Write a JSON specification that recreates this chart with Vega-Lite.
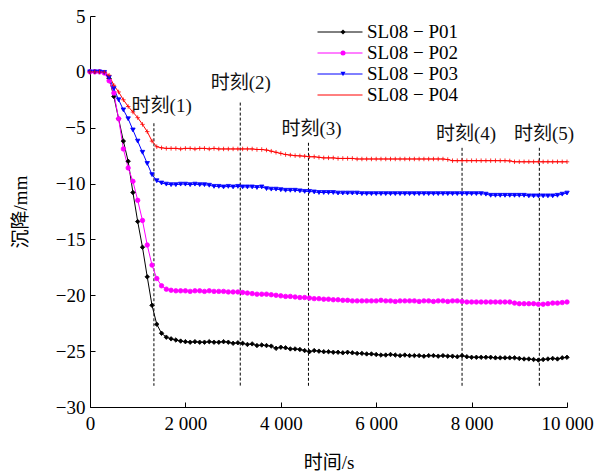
{
"$schema": "https://vega.github.io/schema/vega-lite/v6.json",
"width": 477, "height": 391,
"autosize": "none",
"padding": {"left": 90, "top": 16, "right": 28, "bottom": 68},
"config": {
  "view": {"stroke": null},
  "font": "Liberation Serif, Noto Sans CJK SC",
  "axis": {"grid": false, "domainColor": "black", "tickColor": "black", "labelColor": "black", "titleColor": "black",
    "labelFont": "Liberation Serif, Noto Sans CJK SC", "titleFont": "Liberation Serif, Noto Sans CJK SC",
    "labelFontSize": 19, "titleFontSize": 19, "titleFontWeight": "normal", "tickSize": -5, "domainWidth": 1, "tickWidth": 1},
  "legend": {"labelFont": "Liberation Serif, Noto Sans CJK SC", "labelFontSize": 19}
},
"datasets": {
"moments": [
 {"t": 1340, "top": -4.6, "bot": -28.1, "label": "时刻(1)", "lt": 1503, "ly": -3.04},
 {"t": 3150, "top": -2.75, "bot": -28.1, "label": "时刻(2)", "lt": 3162, "ly": -0.96},
 {"t": 4580, "top": -6.35, "bot": -28.1, "label": "时刻(3)", "lt": 4646, "ly": -5.1},
 {"t": 7800, "top": -6.8, "bot": -28.1, "label": "时刻(4)", "lt": 7883, "ly": -5.55},
 {"t": 9420, "top": -6.8, "bot": -28.1, "label": "时刻(5)", "lt": 9518, "ly": -5.55}
],
"curves": [
{"t":0,"P01":0,"P02":0,"P03":0,"P04":0},
{"t":100,"P01":0,"P02":0,"P03":0,"P04":0},
{"t":200,"P01":0,"P02":0,"P03":0,"P04":0},
{"t":300,"P01":-0.05,"P02":-0.1,"P03":-0.05,"P04":-0.03},
{"t":400,"P01":-0.6,"P02":-0.8,"P03":-0.5,"P04":-0.3},
{"t":500,"P01":-2.2,"P02":-1.9,"P03":-1.5,"P04":-1.2},
{"t":600,"P01":-4.2,"P02":-4.2,"P03":-2.5,"P04":-1.8},
{"t":700,"P01":-6.2,"P02":-6.9,"P03":-3.4,"P04":-2.5},
{"t":800,"P01":-8.0,"P02":-8.6,"P03":-4.2,"P04":-3.1},
{"t":900,"P01":-10.8,"P02":-9.8,"P03":-5.2,"P04":-3.6},
{"t":1000,"P01":-13.4,"P02":-11.5,"P03":-6.2,"P04":-4.1},
{"t":1100,"P01":-15.7,"P02":-13.3,"P03":-7.2,"P04":-4.7},
{"t":1200,"P01":-18.35,"P02":-15.5,"P03":-8.2,"P04":-5.35},
{"t":1300,"P01":-20.9,"P02":-17.3,"P03":-9.2,"P04":-6.2},
{"t":1400,"P01":-22.6,"P02":-18.5,"P03":-9.75,"P04":-6.7},
{"t":1500,"P01":-23.4,"P02":-19.15,"P03":-9.95,"P04":-6.8},
{"t":1600,"P01":-23.75,"P02":-19.45,"P03":-10.05,"P04":-6.85},
{"t":1700,"P01":-23.9,"P02":-19.55,"P03":-10.1,"P04":-6.85},
{"t":1800,"P01":-24.0,"P02":-19.6,"P03":-10.1,"P04":-6.85},
{"t":1900,"P01":-24.1,"P02":-19.6,"P03":-10.05,"P04":-6.9},
{"t":2000,"P01":-24.15,"P02":-19.6,"P03":-10.05,"P04":-6.85},
{"t":2100,"P01":-24.2,"P02":-19.65,"P03":-10.1,"P04":-6.85},
{"t":2200,"P01":-24.15,"P02":-19.6,"P03":-10.05,"P04":-6.9},
{"t":2300,"P01":-24.2,"P02":-19.6,"P03":-10.1,"P04":-6.85},
{"t":2400,"P01":-24.2,"P02":-19.65,"P03":-10.1,"P04":-6.85},
{"t":2500,"P01":-24.15,"P02":-19.6,"P03":-10.15,"P04":-6.9},
{"t":2600,"P01":-24.2,"P02":-19.65,"P03":-10.25,"P04":-6.85},
{"t":2700,"P01":-24.2,"P02":-19.65,"P03":-10.25,"P04":-6.9},
{"t":2800,"P01":-24.15,"P02":-19.65,"P03":-10.3,"P04":-6.9},
{"t":2900,"P01":-24.2,"P02":-19.7,"P03":-10.25,"P04":-6.9},
{"t":3000,"P01":-24.3,"P02":-19.7,"P03":-10.3,"P04":-6.9},
{"t":3100,"P01":-24.25,"P02":-19.7,"P03":-10.25,"P04":-6.9},
{"t":3200,"P01":-24.3,"P02":-19.75,"P03":-10.3,"P04":-6.9},
{"t":3300,"P01":-24.4,"P02":-19.8,"P03":-10.3,"P04":-6.9},
{"t":3400,"P01":-24.35,"P02":-19.85,"P03":-10.3,"P04":-6.9},
{"t":3500,"P01":-24.5,"P02":-19.9,"P03":-10.35,"P04":-6.95},
{"t":3600,"P01":-24.45,"P02":-19.9,"P03":-10.3,"P04":-6.95},
{"t":3700,"P01":-24.5,"P02":-19.9,"P03":-10.45,"P04":-7.0},
{"t":3800,"P01":-24.55,"P02":-19.95,"P03":-10.5,"P04":-7.1},
{"t":3900,"P01":-24.75,"P02":-20.0,"P03":-10.5,"P04":-7.2},
{"t":4000,"P01":-24.65,"P02":-20.05,"P03":-10.55,"P04":-7.3},
{"t":4100,"P01":-24.7,"P02":-20.1,"P03":-10.6,"P04":-7.4},
{"t":4200,"P01":-24.8,"P02":-20.1,"P03":-10.6,"P04":-7.45},
{"t":4300,"P01":-24.8,"P02":-20.15,"P03":-10.6,"P04":-7.5},
{"t":4400,"P01":-24.85,"P02":-20.2,"P03":-10.65,"P04":-7.52},
{"t":4500,"P01":-24.95,"P02":-20.2,"P03":-10.7,"P04":-7.55},
{"t":4600,"P01":-25.05,"P02":-20.25,"P03":-10.7,"P04":-7.6},
{"t":4700,"P01":-24.95,"P02":-20.3,"P03":-10.75,"P04":-7.6},
{"t":4800,"P01":-25.0,"P02":-20.3,"P03":-10.8,"P04":-7.65},
{"t":4900,"P01":-25.05,"P02":-20.35,"P03":-10.8,"P04":-7.7},
{"t":5000,"P01":-25.05,"P02":-20.35,"P03":-10.8,"P04":-7.7},
{"t":5100,"P01":-25.1,"P02":-20.4,"P03":-10.8,"P04":-7.7},
{"t":5200,"P01":-25.1,"P02":-20.4,"P03":-10.85,"P04":-7.75},
{"t":5300,"P01":-25.15,"P02":-20.45,"P03":-10.85,"P04":-7.75},
{"t":5400,"P01":-25.1,"P02":-20.45,"P03":-10.85,"P04":-7.75},
{"t":5500,"P01":-25.15,"P02":-20.5,"P03":-10.85,"P04":-7.75},
{"t":5600,"P01":-25.2,"P02":-20.5,"P03":-10.85,"P04":-7.8},
{"t":5700,"P01":-25.2,"P02":-20.5,"P03":-10.9,"P04":-7.8},
{"t":5800,"P01":-25.25,"P02":-20.5,"P03":-10.9,"P04":-7.8},
{"t":5900,"P01":-25.25,"P02":-20.5,"P03":-10.9,"P04":-7.8},
{"t":6000,"P01":-25.3,"P02":-20.5,"P03":-10.9,"P04":-7.8},
{"t":6100,"P01":-25.35,"P02":-20.45,"P03":-10.9,"P04":-7.8},
{"t":6200,"P01":-25.35,"P02":-20.5,"P03":-10.9,"P04":-7.8},
{"t":6300,"P01":-25.3,"P02":-20.5,"P03":-10.9,"P04":-7.8},
{"t":6400,"P01":-25.35,"P02":-20.55,"P03":-10.9,"P04":-7.8},
{"t":6500,"P01":-25.4,"P02":-20.5,"P03":-10.9,"P04":-7.8},
{"t":6600,"P01":-25.35,"P02":-20.5,"P03":-10.9,"P04":-7.8},
{"t":6700,"P01":-25.4,"P02":-20.5,"P03":-10.9,"P04":-7.8},
{"t":6800,"P01":-25.4,"P02":-20.5,"P03":-10.9,"P04":-7.8},
{"t":6900,"P01":-25.4,"P02":-20.55,"P03":-10.9,"P04":-7.8},
{"t":7000,"P01":-25.45,"P02":-20.5,"P03":-10.9,"P04":-7.8},
{"t":7100,"P01":-25.4,"P02":-20.5,"P03":-10.9,"P04":-7.8},
{"t":7200,"P01":-25.4,"P02":-20.55,"P03":-10.9,"P04":-7.8},
{"t":7300,"P01":-25.45,"P02":-20.5,"P03":-10.9,"P04":-7.8},
{"t":7400,"P01":-25.4,"P02":-20.5,"P03":-10.9,"P04":-7.8},
{"t":7500,"P01":-25.45,"P02":-20.55,"P03":-10.9,"P04":-7.85},
{"t":7600,"P01":-25.45,"P02":-20.5,"P03":-10.9,"P04":-7.95},
{"t":7700,"P01":-25.5,"P02":-20.5,"P03":-10.9,"P04":-7.95},
{"t":7800,"P01":-25.4,"P02":-20.55,"P03":-10.9,"P04":-7.95},
{"t":7900,"P01":-25.5,"P02":-20.6,"P03":-10.9,"P04":-7.95},
{"t":8000,"P01":-25.55,"P02":-20.6,"P03":-10.9,"P04":-7.95},
{"t":8100,"P01":-25.55,"P02":-20.6,"P03":-10.9,"P04":-7.95},
{"t":8200,"P01":-25.55,"P02":-20.6,"P03":-10.9,"P04":-7.95},
{"t":8300,"P01":-25.55,"P02":-20.6,"P03":-10.95,"P04":-7.95},
{"t":8400,"P01":-25.55,"P02":-20.6,"P03":-11.05,"P04":-7.95},
{"t":8500,"P01":-25.6,"P02":-20.6,"P03":-11.05,"P04":-7.95},
{"t":8600,"P01":-25.6,"P02":-20.6,"P03":-11.05,"P04":-7.95},
{"t":8700,"P01":-25.6,"P02":-20.6,"P03":-11.05,"P04":-7.95},
{"t":8800,"P01":-25.6,"P02":-20.6,"P03":-11.05,"P04":-7.97},
{"t":8900,"P01":-25.6,"P02":-20.7,"P03":-11.05,"P04":-8.05},
{"t":9000,"P01":-25.65,"P02":-20.75,"P03":-11.05,"P04":-8.05},
{"t":9100,"P01":-25.7,"P02":-20.75,"P03":-11.05,"P04":-8.05},
{"t":9200,"P01":-25.7,"P02":-20.75,"P03":-11.1,"P04":-8.05},
{"t":9300,"P01":-25.75,"P02":-20.75,"P03":-11.1,"P04":-8.05},
{"t":9400,"P01":-25.8,"P02":-20.8,"P03":-11.1,"P04":-8.05},
{"t":9500,"P01":-25.75,"P02":-20.8,"P03":-11.1,"P04":-8.05},
{"t":9600,"P01":-25.7,"P02":-20.75,"P03":-11.1,"P04":-8.05},
{"t":9700,"P01":-25.65,"P02":-20.7,"P03":-11.1,"P04":-8.05},
{"t":9800,"P01":-25.7,"P02":-20.7,"P03":-11.05,"P04":-8.05},
{"t":9900,"P01":-25.6,"P02":-20.65,"P03":-10.95,"P04":-8.05},
{"t":10000,"P01":-25.55,"P02":-20.6,"P03":-10.85,"P04":-8.05}
]
},
"layer": [
 {"data": {"name": "moments"},
  "mark": {"type": "rule", "strokeDash": [3, 2], "color": "black", "strokeWidth": 1},
  "encoding": {
    "x": {"field": "t", "type": "quantitative", "scale": {"domain": [0, 10000], "nice": false, "zero": false},
      "axis": {"title": "时间/s", "values": [0, 2000, 4000, 6000, 8000, 10000], "labelExpr": "replace(format(datum.value, ','), ',', ' ')", "labelPadding": 12, "titlePadding": 20, "labelOverlap": false, "labelFlush": false}},
    "y": {"field": "top", "type": "quantitative", "scale": {"domain": [-30, 5], "nice": false, "zero": false},
      "axis": {"title": "沉降/mm", "values": [-30, -25, -20, -15, -10, -5, 0, 5], "labelPadding": 10, "titlePadding": 25, "labelOverlap": false, "labelFlush": false}},
    "y2": {"field": "bot"}
  }},
 {"data": {"name": "moments"},
  "mark": {"type": "text", "fontSize": 19, "align": "center", "baseline": "middle", "color": "#111", "font": "Liberation Serif, Noto Sans CJK SC"},
  "encoding": {
    "x": {"field": "lt", "type": "quantitative"},
    "y": {"field": "ly", "type": "quantitative"},
    "text": {"field": "label"}
  }},
 {"data": {"name": "curves"},
  "transform": [{"fold": ["P01", "P02", "P03", "P04"], "as": ["series", "v"]}],
  "mark": {"type": "line", "strokeWidth": 1},
  "encoding": {
    "x": {"field": "t", "type": "quantitative"},
    "y": {"field": "v", "type": "quantitative"},
    "stroke": {"field": "series", "type": "nominal", "scale": {"range": ["#000000", "#ff00ff", "#0000ff", "#ff0000"]},
      "legend": {"orient": "none", "legendX": 240.5, "legendY": 6.5, "title": null, "symbolType": "M-4.5,0H4.5", "symbolSize": 100, "symbolStrokeWidth": 1, "labelFontSize": 19, "labelOffset": 17.5, "rowPadding": 1, "padding": 0, "labelColor": "black", "labelExpr": "'SL08 − ' + datum.label"}}
  }},
 {"data": {"name": "curves"},
  "transform": [{"fold": ["P01", "P02", "P03", "P04"], "as": ["name", "v"]}],
  "mark": {"type": "point", "opacity": 1, "fillOpacity": 1, "strokeOpacity": 1, "strokeWidth": 0.8, "size": 20},
  "encoding": {
    "x": {"field": "t", "type": "quantitative"},
    "y": {"field": "v", "type": "quantitative"},
    "stroke": {"field": "name", "type": "nominal", "legend": null},
    "fill": {"field": "name", "type": "nominal", "scale": {"range": ["#000000", "#ff00ff", "#0000ff", "transparent"]},
      "legend": {"orient": "none", "legendX": 243.5, "legendY": 6.5, "title": null, "symbolSize": 25, "symbolStrokeWidth": 0, "labelFontSize": 19, "rowPadding": 1, "padding": 0, "labelExpr": "''"}},
    "shape": {"field": "name", "type": "nominal", "scale": {"range": ["diamond", "circle", "triangle-down", "M-1,0H1M0,-1V1"]},
      "legend": {"orient": "none", "legendX": 243.5, "legendY": 6.5, "title": null, "symbolSize": 25, "symbolStrokeWidth": 0, "labelFontSize": 19, "rowPadding": 1, "padding": 0, "labelExpr": "''"}}
  }}
]
}
